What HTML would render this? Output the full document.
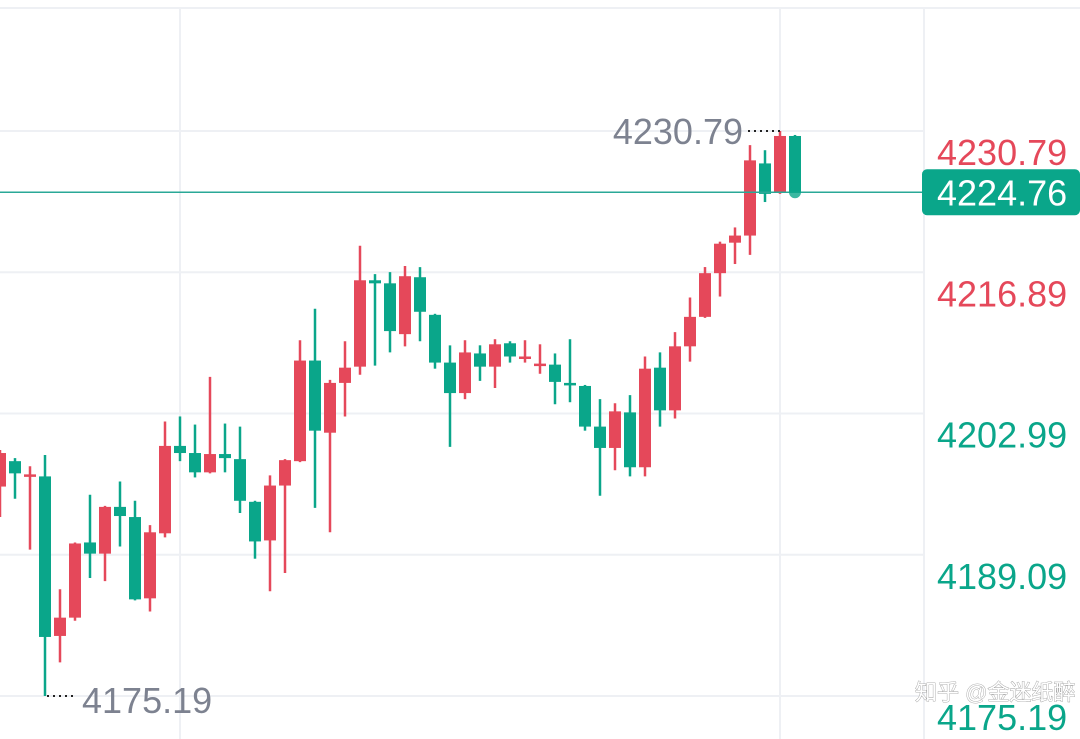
<!DOCTYPE html>
<html><head><meta charset="utf-8">
<style>
html,body{margin:0;padding:0;background:#fff;}
svg{display:block;font-family:"Liberation Sans","Noto Sans CJK SC",sans-serif;}
</style></head>
<body>
<svg id="chart" width="1080" height="739" viewBox="0 0 1080 739" xmlns="http://www.w3.org/2000/svg">
<g id="grid"></g>
<g id="candles"></g>
<g id="overlay"></g>
<g id="axis"></g>
<text x="915" y="700" font-size="22" fill="#fff" stroke="#999" stroke-width="0.8" paint-order="stroke">知乎 @金迷纸醉</text>
</svg>
<script>
const opens  = [4195.8,4198.3,4196.9,4196.8,4181.1,4182.9,4190.3,4189.2,4193.8,4192.8,4184.8,4191.2,4199.8,4199.1,4197.2,4199.0,4198.5,4194.3,4190.5,4195.9,4198.3,4208.2,4201.1,4206.0,4207.6,4216.1,4215.8,4210.8,4216.4,4212.7,4208.0,4205.0,4208.9,4207.6,4209.9,4208.4,4207.7,4207.8,4206.0,4205.7,4201.7,4199.6,4203.1,4197.7,4207.5,4203.3,4209.6,4212.5,4216.8,4219.8,4220.5,4227.6,4224.7,4230.3];
const highs  = [4199.4,4198.6,4197.8,4198.9,4185.7,4190.3,4195.0,4193.9,4196.3,4194.4,4192.0,4202.2,4202.7,4201.9,4206.6,4202.0,4201.7,4194.4,4196.9,4198.5,4210.2,4213.3,4206.3,4210.1,4219.5,4216.7,4216.9,4217.5,4217.4,4212.8,4209.7,4210.2,4209.7,4210.3,4210.1,4210.2,4209.8,4208.9,4210.3,4205.8,4204.4,4204.0,4204.8,4208.6,4209.0,4211.0,4214.4,4217.4,4219.9,4221.3,4229.4,4228.9,4230.79,4230.4];
const lows   = [4192.8,4194.6,4189.6,4175.19,4178.5,4182.6,4186.8,4186.5,4189.9,4184.6,4183.5,4190.8,4198.3,4196.7,4197.1,4197.2,4193.2,4188.7,4185.5,4187.3,4198.2,4193.7,4191.3,4202.7,4206.8,4207.7,4209.0,4209.6,4210.1,4207.4,4199.7,4204.4,4206.2,4205.5,4208.0,4208.0,4206.9,4203.9,4204.1,4201.3,4194.9,4197.4,4196.8,4196.8,4201.7,4202.5,4208.1,4212.4,4214.5,4217.7,4218.6,4223.8,4224.6,4224.76];
const closes = [4199.1,4197.1,4197.0,4181.0,4182.9,4190.2,4189.2,4193.8,4192.9,4184.7,4191.3,4199.8,4199.1,4197.2,4199.0,4198.6,4194.4,4190.4,4195.9,4198.4,4208.2,4201.3,4206.0,4207.5,4216.1,4215.8,4211.1,4216.5,4213.0,4208.0,4205.0,4209.0,4207.6,4209.8,4208.6,4208.6,4207.9,4206.1,4205.8,4201.7,4199.6,4203.2,4197.7,4207.4,4203.3,4209.6,4212.5,4216.8,4219.7,4220.5,4227.9,4224.6,4230.3,4224.76];
const tickLabels = ["4230.79","4216.89","4202.99","4189.09","4175.19"];
const tickValues = [4230.79,4216.89,4202.99,4189.09,4175.19];
const lastPrice = 4224.76;
const maxPrice = 4230.79, minPrice = 4175.19;

const NS="http://www.w3.org/2000/svg";
const RED="#e5485a", GREEN="#0aa68a";
const yS = v => 696 + (v - minPrice) * (131 - 696) / (maxPrice - minPrice);
const xS = i => i * 15;
function mk(tag, attrs, parent){const e=document.createElementNS(NS,tag);for(const k in attrs)e.setAttribute(k,attrs[k]);parent.appendChild(e);return e;}

const grid=document.getElementById('grid');
let g=mk('line',{x1:0,x2:1080,y1:8,y2:8,stroke:"#eef0f4","stroke-width":2},grid);


tickValues.forEach(v=>{
  const l=mk('line',{x1:0,x2:924,y1:yS(v),y2:yS(v),stroke:"#eef0f4","stroke-width":2},grid);
  
  
});
[180,780].forEach(x=>{
  const l=mk('line',{x1:x,x2:x,y1:8,y2:739,stroke:"#eef0f4","stroke-width":2},grid);
  
  
});
g=mk('line',{x1:924,x2:924,y1:8,y2:739,stroke:"#eef0f4","stroke-width":2},grid);



const cg=document.getElementById('candles');
for(let i=0;i<opens.length;i++){
  const up=closes[i]>=opens[i], col=up?RED:GREEN, x=xS(i);
  const grp=mk('g',{},cg);
  
  
  mk('line',{x1:x,x2:x,y1:yS(highs[i]),y2:yS(lows[i]),stroke:col,"stroke-width":2.5},grp);
  const t=yS(Math.max(opens[i],closes[i])), b=yS(Math.min(opens[i],closes[i]));
  mk('rect',{x:x-6,y:t,width:12,height:Math.max(2.5,b-t),fill:col},grp);
}

const ov=document.getElementById('overlay');
const yl=yS(lastPrice);
g=mk('line',{x1:0,x2:924,y1:yl,y2:yl,stroke:"#2aa897","stroke-width":1.5},ov);


g=mk('circle',{cx:xS(opens.length-1),cy:yl,r:6,fill:GREEN,opacity:0.8},ov);


let hiIdx=highs.indexOf(Math.max(...highs)), loIdx=lows.indexOf(Math.min(...lows));
g=mk('line',{x1:xS(hiIdx)-32,x2:xS(hiIdx),y1:yS(highs[hiIdx]),y2:yS(highs[hiIdx]),stroke:"#222","stroke-width":2,"stroke-dasharray":"2,4"},ov);


g=mk('text',{x:xS(hiIdx)-37,y:yS(highs[hiIdx])+13,"font-size":36,fill:"#7d8290","text-anchor":"end"},ov);
g.textContent=highs[hiIdx].toFixed(2);


g=mk('line',{x1:xS(loIdx)+2,x2:xS(loIdx)+32,y1:yS(lows[loIdx]),y2:yS(lows[loIdx]),stroke:"#222","stroke-width":2,"stroke-dasharray":"2,4"},ov);


g=mk('text',{x:xS(loIdx)+37,y:yS(lows[loIdx])+17,"font-size":36,fill:"#7d8290"},ov);
g.textContent=lows[loIdx].toFixed(2);



const ax=document.getElementById('axis');
tickValues.forEach((v,i)=>{
  const t=mk('text',{x:937,y:yS(v)+34,"font-size":36,fill:v>lastPrice-8?RED:GREEN},ax);
  t.textContent=tickLabels[i];
  
  
});
g=mk('rect',{x:922,y:yl-23,width:158,height:46,rx:5,fill:GREEN},ax);


g=mk('text',{x:937,y:yl+13,"font-size":36,fill:"#fff"},ax);
g.textContent=lastPrice.toFixed(2);


</script>
</body></html>
